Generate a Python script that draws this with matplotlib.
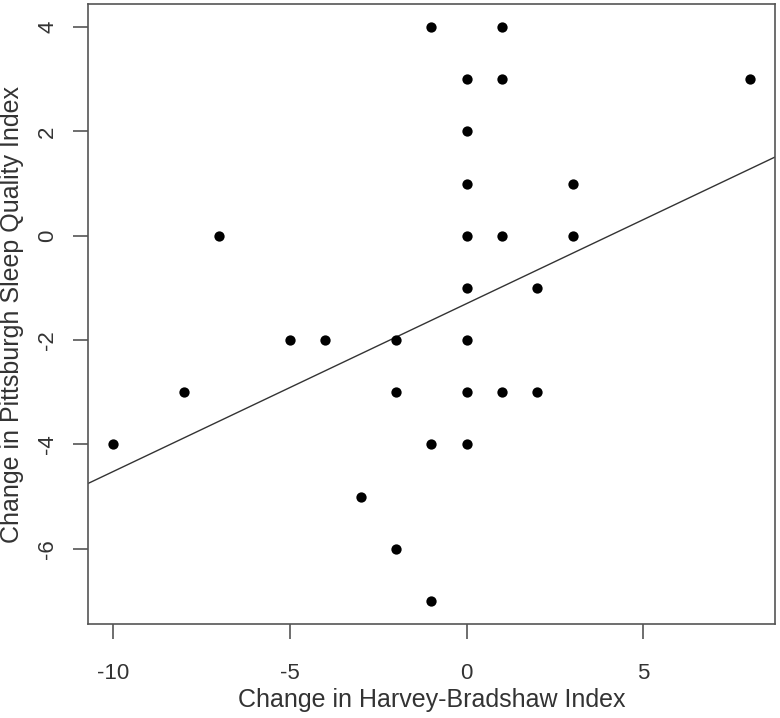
import matplotlib
matplotlib.use("Agg")
import matplotlib.pyplot as plt
import numpy as np

plt.rcParams['font.family'] = ['Liberation Sans', 'DejaVu Sans']
plt.rcParams['axes.unicode_minus'] = False

# cambio en el indice Harvey-Bradshaw (x) y en el PSQI (y)
hbi_change = [-1, 1, 0, 1, 8, 0, 0, 3, -7, 0, 1, 3, 0, 2, -5, -4, -2, 0,
              -8, -2, 0, 1, 2, -10, -1, 0, -3, -2, -1]
psqi_change = [4, 4, 3, 3, 3, 2, 1, 1, 0, 0, 0, 0, -1, -1, -2, -2, -2, -2,
               -3, -3, -3, -3, -3, -4, -4, -4, -5, -6, -7]

# recta de regresion
fit_intercept = -1.30
fit_slope = 0.322

x_ticks = [-10, -5, 0, 5]
y_ticks = [-6, -4, -2, 0, 2, 4]

fig = plt.figure(figsize=(7.8, 7.18), dpi=100)
ax = fig.add_axes([0.1122, 0.1309, 0.8814, 0.8635])

ax.scatter(hbi_change, psqi_change, s=55, color='black', zorder=3, linewidths=0)

# limites tipo R (rango +4%)
xr = max(hbi_change) - min(hbi_change)
yr = max(psqi_change) - min(psqi_change)
xlim = (min(hbi_change) - 0.04 * xr, max(hbi_change) + 0.04 * xr)
ylim = (min(psqi_change) - 0.04 * yr, max(psqi_change) + 0.04 * yr)
ax.set_xlim(xlim)
ax.set_ylim(ylim)

xx = np.array(xlim)
ax.plot(xx, fit_intercept + fit_slope * xx, color='#333333', linewidth=1.0)

for s in ax.spines.values():
    s.set_color('#555555')
    s.set_linewidth(1.2)

ax.set_xticks(x_ticks)
ax.set_yticks(y_ticks)
ax.tick_params(axis='both', direction='out', length=11, width=1.2,
               color='#555555', labelsize=16, labelcolor='#333333')
ax.tick_params(axis='x', pad=17)
ax.tick_params(axis='y', pad=10)
for lab in ax.get_yticklabels():
    lab.set_rotation(90)
    lab.set_va('center')

ax.set_xlabel('Change in Harvey-Bradshaw Index', fontsize=18, color='#333333', va='center')
ax.xaxis.set_label_coords(0.5, -0.123)
ax.set_ylabel('Change in Pittsburgh Sleep Quality Index', fontsize=18, color='#333333', va='center')
ax.yaxis.set_label_coords(-0.1098, 0.5)

fig.savefig('out.png', dpi=100)
